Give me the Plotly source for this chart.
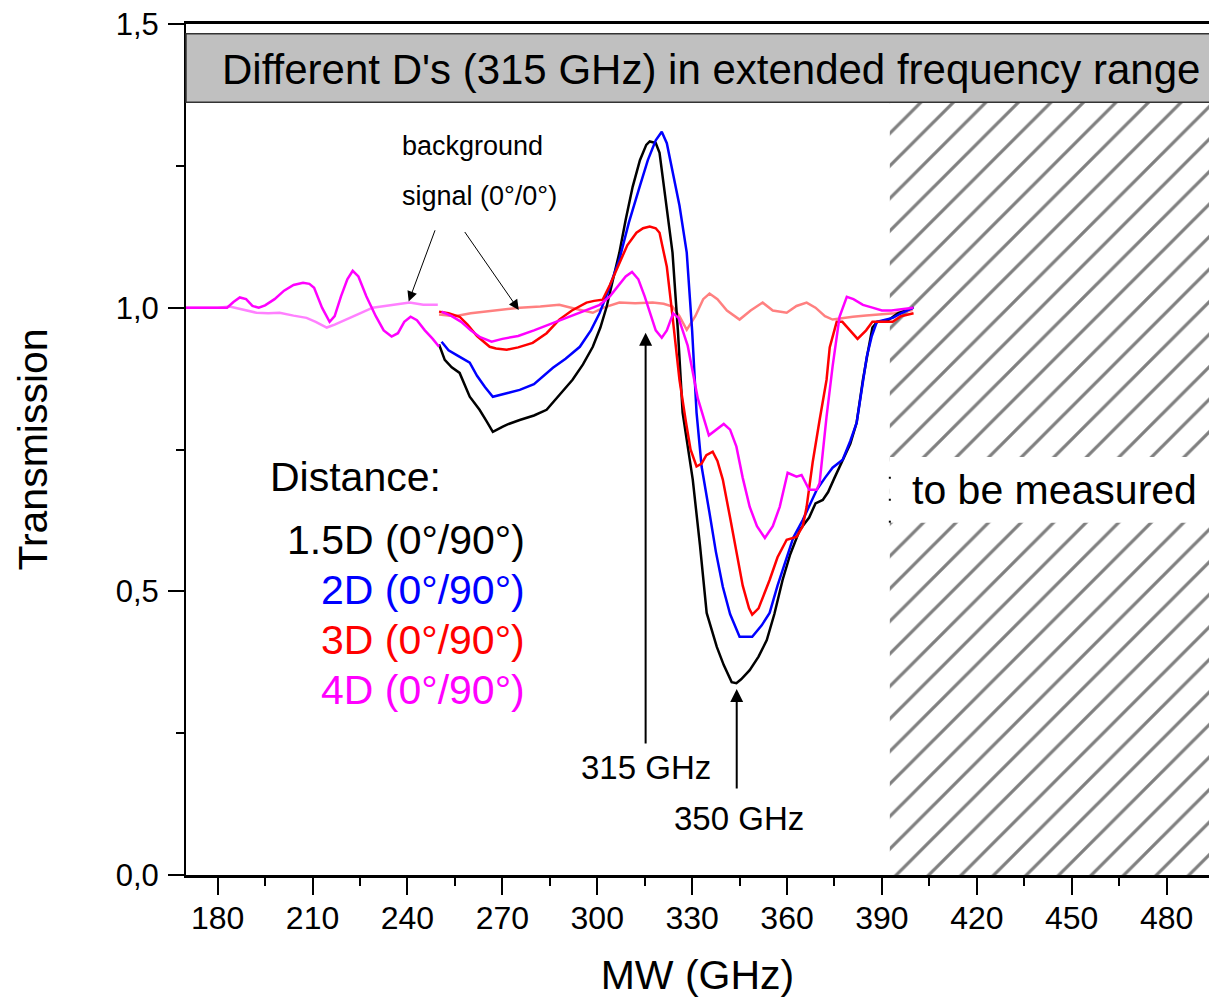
import plotly.graph_objects as go

# ---------------- data ----------------
freq_15d = [250.0, 251.8, 254, 256.5, 259.7, 262.8, 265, 267, 270, 272, 275.5, 280, 284, 288, 292.2,
            295.5, 298.6, 301, 303, 305, 307, 309, 311.2, 313.5, 315.5, 316.6, 318.5, 319.7, 321.5,
            323.8, 325.5, 327, 328.3, 330.2, 332.5, 334.6, 337.8, 340, 342.5, 344, 345.5, 348.2, 351,
            353.6, 356, 358.6, 361, 364, 367, 369, 371.3, 373, 375, 377.6, 380, 382, 384, 385.5, 387,
            388.5, 392, 395, 400]
trans_15d = [0.935, 0.908, 0.895, 0.885, 0.843, 0.820, 0.800, 0.781, 0.790, 0.795, 0.802, 0.810, 0.820,
             0.845, 0.873, 0.900, 0.931, 0.965, 1.002, 1.050, 1.097, 1.155, 1.213, 1.260, 1.287, 1.293,
             1.290, 1.273, 1.200, 1.097, 0.960, 0.815, 0.767, 0.697, 0.580, 0.462, 0.402, 0.370, 0.340,
             0.338, 0.345, 0.361, 0.385, 0.414, 0.460, 0.520, 0.565, 0.608, 0.630, 0.655, 0.661, 0.675,
             0.700, 0.732, 0.760, 0.797, 0.873, 0.920, 0.965, 0.975, 0.978, 0.990, 1.000]

freq_2d = [250.8, 253, 256, 259.7, 262, 264.5, 267, 270, 272, 275.5, 280, 286, 290, 294.5, 298, 300.8,
           303.5, 307, 310, 313.4, 316, 318.5, 320.4, 322, 323.8, 326, 328.3, 330, 331.4, 333, 335.5,
           337.5, 339.7, 342, 345, 349, 352, 354.5, 357, 359.9, 362, 365, 367, 369.4, 372, 374.4, 377.6,
           380, 382, 384, 385.2, 386.8, 388.4, 393.4, 396, 400]
trans_2d = [0.940, 0.925, 0.915, 0.903, 0.880, 0.860, 0.843, 0.848, 0.850, 0.855, 0.865, 0.894, 0.910,
            0.931, 0.960, 0.991, 1.030, 1.085, 1.150, 1.213, 1.260, 1.295, 1.310, 1.290, 1.243, 1.180,
            1.097, 0.960, 0.815, 0.720, 0.638, 0.570, 0.508, 0.460, 0.420, 0.420, 0.440, 0.462, 0.510,
            0.561, 0.595, 0.626, 0.650, 0.679, 0.700, 0.718, 0.732, 0.765, 0.797, 0.873, 0.913, 0.950,
            0.975, 0.982, 0.990, 1.000]

freq_3d = [250, 253, 256.5, 259, 262, 266, 268, 271.4, 275, 279.6, 284, 288, 292, 296.6, 299, 301.7, 304,
           307, 309.5, 312.4, 314.5, 316.6, 318.5, 319.7, 321, 322, 323.5, 325.1, 326, 328, 329.5, 331.4,
           333, 334.5, 336.5, 338, 339.7, 342, 344, 346, 348, 349, 351, 352.5, 354.5, 357, 359.9, 363,
           365, 366.2, 368.1, 370.3, 372.5, 373.5, 375.7, 377.5, 380, 382.3, 385, 387, 393.4, 396, 400]
trans_3d = [0.993, 0.990, 0.984, 0.970, 0.950, 0.931, 0.928, 0.926, 0.930, 0.938, 0.955, 0.979, 0.995,
            1.009, 1.012, 1.014, 1.040, 1.079, 1.110, 1.132, 1.140, 1.143, 1.140, 1.132, 1.100, 1.072,
            1.000, 0.921, 0.873, 0.800, 0.750, 0.720, 0.725, 0.740, 0.746, 0.730, 0.697, 0.630, 0.568,
            0.510, 0.470, 0.459, 0.470, 0.490, 0.520, 0.560, 0.591, 0.596, 0.615, 0.649, 0.727, 0.802,
            0.873, 0.930, 0.975, 0.975, 0.960, 0.945, 0.960, 0.975, 0.975, 0.985, 0.990]

freq_4d = [170, 183, 185, 187, 189, 191, 193, 195, 198, 201, 204, 207, 209, 210.5, 213, 215.4, 217, 219,
           221, 222.7, 224.5, 227, 230, 232.5, 235, 237, 239, 241, 243, 245.5, 248, 250, None,
           250.8, 254, 257, 260, 263, 266.6, 270, 275, 280, 286, 292, 296, 300.8, 304, 307, 309, 311,
           313, 315, 317, 318.5, 320.4, 322, 324, 325.7, 328.6, 331.8, 335.3, 337.5, 340, 342, 344, 346,
           348.2, 350.5, 353, 355.5, 357.7, 360.2, 363, 364.6, 367, 369.4, 370.3, 372.5, 374.4, 376.6,
           378.9, 381, 384, 387, 390, 393, 396, 400]
trans_4d = [1.000, 1.000, 1.010, 1.018, 1.015, 1.003, 1.000, 1.004, 1.015, 1.030, 1.040, 1.044, 1.042,
            1.035, 1.000, 0.975, 0.985, 1.020, 1.050, 1.065, 1.055, 1.020, 0.985, 0.960, 0.949, 0.955,
            0.975, 0.984, 0.978, 0.960, 0.945, 0.931, None,
            0.993, 0.985, 0.975, 0.960, 0.948, 0.940, 0.945, 0.950, 0.960, 0.973, 0.985, 0.995, 1.005,
            1.020, 1.040, 1.055, 1.063, 1.050, 1.020, 0.985, 0.960, 0.947, 0.960, 0.990, 0.982, 0.933,
            0.840, 0.775, 0.785, 0.795, 0.785, 0.755, 0.700, 0.649, 0.615, 0.594, 0.615, 0.649, 0.709,
            0.702, 0.705, 0.679, 0.679, 0.691, 0.808, 0.896, 0.984, 1.019, 1.015, 1.005, 1.000, 0.995,
            0.995, 0.997, 1.000]

freq_bg_low = [170, 180, 183.8, 187, 190, 192.3, 196, 199.6, 204, 208.1, 211, 214.5, 217, 220.8, 225, 229,
               234, 240.7, 245, 249.6]
trans_bg_low = [1.000, 1.000, 1.002, 0.998, 0.993, 0.991, 0.990, 0.991, 0.986, 0.982, 0.975, 0.965,
                0.970, 0.979, 0.990, 1.000, 1.004, 1.009, 1.005, 1.005]

freq_bg_high = [250, 255, 260, 265, 270, 275.5, 282, 288, 293, 298.6, 302, 307, 312, 317.5, 321, 323.8,
                326, 328.3, 331, 333.5, 335.5, 338, 341, 345, 348.5, 352.3, 355.5, 359.9, 363, 366.2, 369,
                372, 374.4, 378, 380.8, 385, 389.3, 394, 399.7]
trans_bg_high = [0.988, 0.985, 0.990, 0.993, 0.997, 1.000, 1.002, 1.005, 0.998, 0.991, 1.000, 1.009,
                 1.008, 1.009, 1.007, 1.002, 0.985, 0.961, 0.985, 1.015, 1.025, 1.015, 0.995, 0.979,
                 0.995, 1.009, 0.995, 0.991, 1.003, 1.009, 1.000, 0.985, 0.979, 0.982, 0.984, 0.986,
                 0.988, 0.990, 0.996]

series_names = ["1.5D (0°/90°)", "2D (0°/90°)", "3D (0°/90°)", "4D (0°/90°)"]
series_colors = ["#000000", "#0000FF", "#FF0000", "#FF00FF"]
series_freq = [freq_15d, freq_2d, freq_3d, freq_4d]
series_trans = [trans_15d, trans_2d, trans_3d, trans_4d]

bg_colors = ["#FF80FF", "#FF8080"]

x_tick_vals = [180, 210, 240, 270, 300, 330, 360, 390, 420, 450, 480]
y_tick_vals = [0.0, 0.5, 1.0, 1.5]

UNMEASURED_FROM = 392.5   # GHz, start of the hatched "to be measured" range
TITLE_BOX = (1.362, 1.483)
FONT = "Arial, Liberation Sans, sans-serif"

fig = go.Figure()

# hatched region (drawn first, below the curves)
fig.add_trace(go.Scatter(
    x=[UNMEASURED_FROM, 520, 520, UNMEASURED_FROM, UNMEASURED_FROM],
    y=[0, 0, TITLE_BOX[0], TITLE_BOX[0], 0],
    mode="lines", fill="toself", line=dict(width=0, color="rgba(0,0,0,0)"),
    fillcolor="white",
    fillpattern=dict(shape="/", size=23, solidity=0.14, fgcolor="black", bgcolor="white"),
    hoverinfo="skip", showlegend=False))

# background signal
fig.add_trace(go.Scatter(x=freq_bg_low, y=trans_bg_low, mode="lines", name="background low",
                         line=dict(color=bg_colors[0], width=2.5), showlegend=False))
fig.add_trace(go.Scatter(x=freq_bg_high, y=trans_bg_high, mode="lines", name="background high",
                         line=dict(color=bg_colors[1], width=2.5), showlegend=False))

for f, t, n, c in zip(series_freq, series_trans, series_names, series_colors):
    fig.add_trace(go.Scatter(x=f, y=t, mode="lines", name=n,
                             line=dict(color=c, width=2.5), showlegend=False))

shapes = [
    # title box
    dict(type="rect", xref="paper", yref="y", x0=0, x1=1.05, y0=TITLE_BOX[0], y1=TITLE_BOX[1],
         fillcolor="#C0C0C0", line=dict(color="#333333", width=1.5), layer="above"),
    # white box behind "to be measured"
    dict(type="rect", xref="x", yref="y", x0=UNMEASURED_FROM, x1=520, y0=0.621, y1=0.737,
         fillcolor="white", line=dict(width=0), layer="above"),
    dict(type="line", xref="x", yref="y", x0=UNMEASURED_FROM, x1=UNMEASURED_FROM, y0=0.621, y1=0.737,
         line=dict(color="black", width=2, dash="2px,20px"), layer="above"),
]

ann = []
ann.append(dict(x=336, y=1.42, xref="x", yref="y", showarrow=False,
                text="Different D's (315 GHz) in extended frequency range",
                font=dict(size=42, color="black", family=FONT)))
ann.append(dict(x=237.5, y=1.285, xref="x", yref="y", showarrow=False, xanchor="left",
                text="background", font=dict(size=27, color="black", family=FONT)))
ann.append(dict(x=237.5, y=1.196, xref="x", yref="y", showarrow=False, xanchor="left",
                text="signal (0°/0°)", font=dict(size=27, color="black", family=FONT)))
# arrows to the background signal
ann.append(dict(x=240.4, y=1.011, ax=248.9, ay=1.139, xref="x", yref="y", axref="x", ayref="y",
                text="", showarrow=True, arrowhead=2, arrowsize=2, arrowwidth=1, arrowcolor="black"))
ann.append(dict(x=275.2, y=0.996, ax=257.8, ay=1.136, xref="x", yref="y", axref="x", ayref="y",
                text="", showarrow=True, arrowhead=2, arrowsize=2, arrowwidth=1, arrowcolor="black"))
# legend text
ann.append(dict(x=195.8, y=0.702, xref="x", yref="y", showarrow=False, xanchor="left",
                text="Distance:", font=dict(size=41, color="black", family=FONT)))
legend_y = [0.591, 0.503, 0.414, 0.326]
for n, c, yy in zip(series_names, series_colors, legend_y):
    ann.append(dict(x=277.7, y=yy, xref="x", yref="y", showarrow=False, xanchor="right",
                    text=n, font=dict(size=41, color=c, family=FONT)))
# frequency markers
ann.append(dict(x=315.3, y=0.189, xref="x", yref="y", showarrow=False,
                text="315 GHz", font=dict(size=33, color="black", family=FONT)))
ann.append(dict(x=315.3, y=0.956, ax=315.3, ay=0.229, xref="x", yref="y", axref="x", ayref="y",
                text="", showarrow=True, arrowhead=2, arrowsize=1.3, arrowwidth=2, arrowcolor="black"))
ann.append(dict(x=344.9, y=0.100, xref="x", yref="y", showarrow=False,
                text="350 GHz", font=dict(size=33, color="black", family=FONT)))
ann.append(dict(x=344.1, y=0.328, ax=344.1, ay=0.150, xref="x", yref="y", axref="x", ayref="y",
                text="", showarrow=True, arrowhead=2, arrowsize=1.3, arrowwidth=2, arrowcolor="black"))
ann.append(dict(x=398.8, y=0.679, xref="x", yref="y", showarrow=False, xanchor="left",
                text="to be measured", font=dict(size=41, color="black", family=FONT)))

# the page body has an 8 px margin: size the figure so that the page fits the window
fig.update_layout(
    width=1201, height=990,
    margin=dict(l=178, r=0, t=16, b=123),
    paper_bgcolor="white", plot_bgcolor="white",
    separators=",.",
    font=dict(family=FONT, color="black"),
    shapes=shapes, annotations=ann,
    showlegend=False,
)
fig.update_xaxes(
    range=[170, 493.4], tickvals=x_tick_vals, ticks="outside", ticklen=17, tickwidth=2,
    tickcolor="black", showline=True, linecolor="black", linewidth=3, mirror=True,
    showgrid=False, zeroline=False, tickfont=dict(size=32, family=FONT),
    minor=dict(dtick=15, tick0=180, ticks="outside", ticklen=8, tickwidth=2, tickcolor="black", showgrid=False),
    title=dict(text="MW (GHz)", font=dict(size=41, family=FONT), standoff=30),
    ticklabelstandoff=-4,
)
fig.update_yaxes(
    range=[0, 1.5], tickvals=y_tick_vals, tickformat=".1f", ticks="outside", ticklen=16, tickwidth=2,
    tickcolor="black", showline=True, linecolor="black", linewidth=2,
    showgrid=False, zeroline=False, tickfont=dict(size=31, family=FONT),
    minor=dict(dtick=0.25, tick0=0, ticks="outside", ticklen=8, tickwidth=2, tickcolor="black", showgrid=False),
    title=dict(text="Transmission", font=dict(size=41, family=FONT), standoff=55),
    ticklabelstandoff=3, ticklabeloverflow="allow",
)

fig.write_html("out.html")
